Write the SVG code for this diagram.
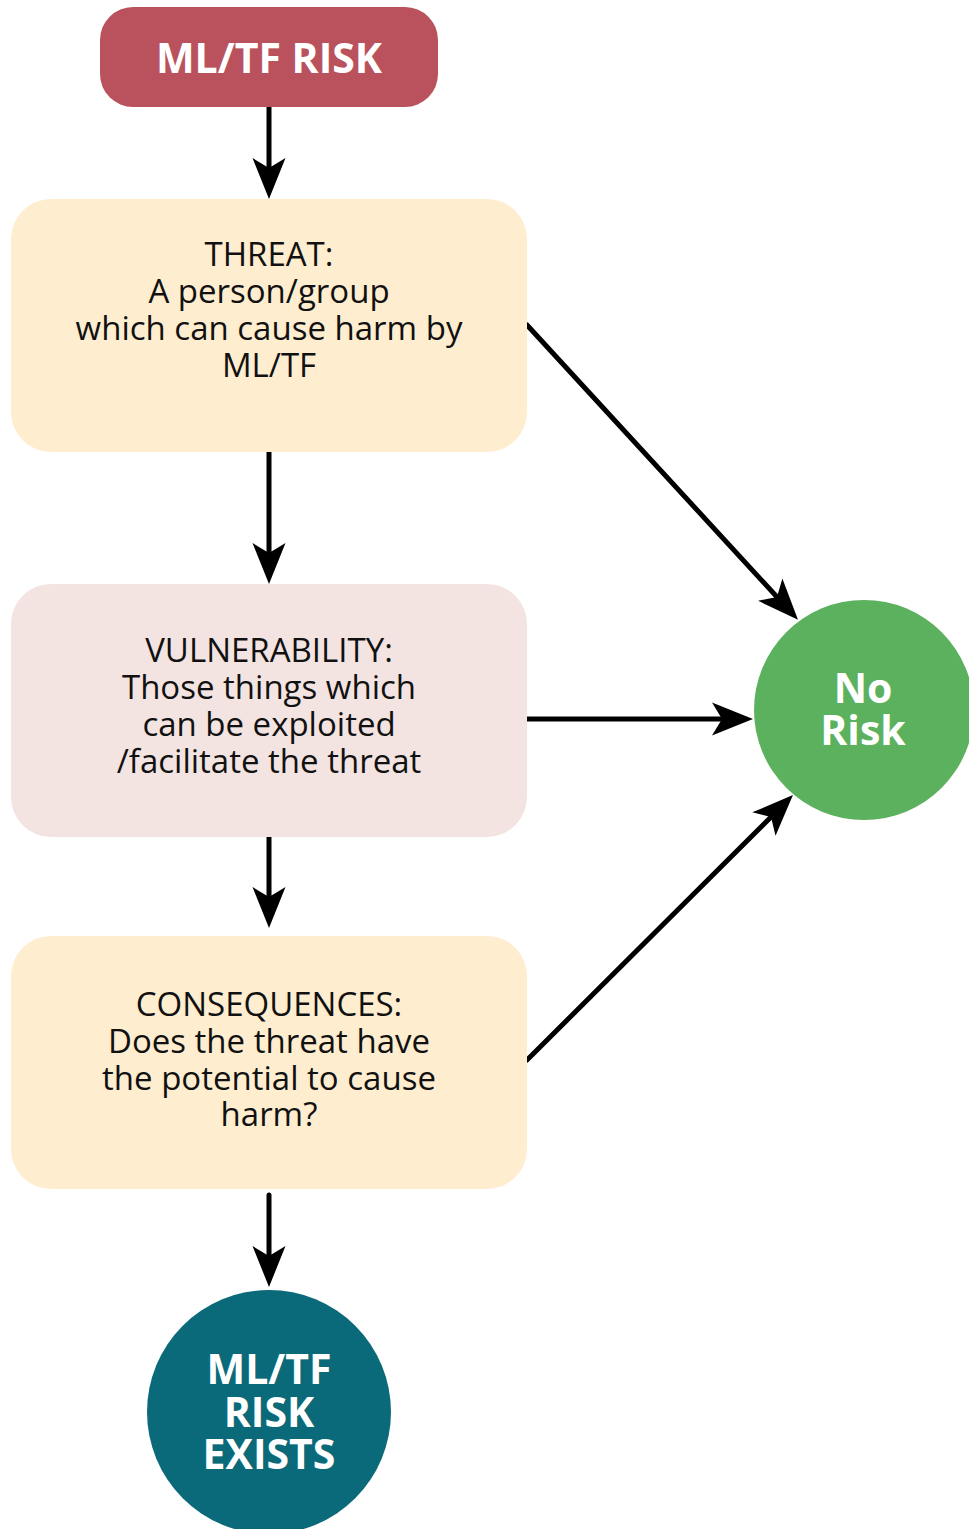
<svg xmlns="http://www.w3.org/2000/svg" width="969" height="1529" viewBox="0 0 969 1529">
  <style>
    .body { font-family: "Open Sans", "Noto Sans", sans-serif; font-size: 33px; fill: #111; text-anchor: middle; }
    .title { font-family: "Open Sans", "Noto Sans", sans-serif; font-weight: 700; fill: #ffffff; text-anchor: middle; }
    .conn { stroke: #000; stroke-width: 5; fill: none; stroke-linecap: round; marker-end: url(#head); }
  </style>
  <defs>
    <!-- notched arrowhead; reference point sits in the notch -->
    <marker id="head" markerUnits="userSpaceOnUse" markerWidth="42" markerHeight="36" viewBox="0 0 42 36" refX="10" refY="18" orient="auto">
      <path d="M0,1.5 L41,18 L0,34.5 L10,18 Z" fill="#000"/>
    </marker>
  </defs>
  <rect width="969" height="1529" fill="#ffffff"/>

  <g id="connectors">
    <line class="conn" x1="269" y1="107" x2="269" y2="168"/>
    <line class="conn" x1="269" y1="452" x2="269" y2="553"/>
    <line class="conn" x1="269" y1="837" x2="269" y2="897"/>
    <line class="conn" x1="269" y1="1195" x2="269" y2="1256"/>
    <line class="conn" x1="527" y1="325" x2="777" y2="597"/>
    <line class="conn" x1="527" y1="719" x2="722" y2="719"/>
    <line class="conn" x1="527" y1="1060" x2="771" y2="817"/>
  </g>

  <g id="mltf-risk">
    <rect x="100" y="7" width="338" height="100" rx="33" fill="#b9525d"/>
    <text class="title" x="269" y="73" font-size="41">ML/TF RISK</text>
  </g>

  <g id="threat">
    <rect x="11" y="199" width="516" height="253" rx="40" fill="#ffedd0"/>
    <text class="body" x="269" y="266">THREAT:<tspan x="269" dy="37">A person/group</tspan><tspan x="269" dy="37">which can cause harm by</tspan><tspan x="269" dy="37">ML/TF</tspan></text>
  </g>

  <g id="vulnerability">
    <rect x="11" y="584" width="516" height="253" rx="40" fill="#f3e4e2"/>
    <text class="body" x="269" y="662">VULNERABILITY:<tspan x="269" dy="37">Those things which</tspan><tspan x="269" dy="37">can be exploited</tspan><tspan x="269" dy="37">/facilitate the threat</tspan></text>
  </g>

  <g id="consequences">
    <rect x="11" y="936" width="516" height="253" rx="40" fill="#ffedd0"/>
    <text class="body" x="269" y="1016">CONSEQUENCES:<tspan x="269" dy="37">Does the threat have</tspan><tspan x="269" dy="37">the potential to cause</tspan><tspan x="269" dy="36">harm?</tspan></text>
  </g>

  <g id="no-risk">
    <circle cx="864" cy="710" r="110" fill="#5cb15e"/>
    <text class="title" x="863" y="703" font-size="41">No<tspan x="863" dy="42">Risk</tspan></text>
  </g>

  <g id="risk-exists">
    <circle cx="269" cy="1412" r="122" fill="#0b6a79"/>
    <text class="title" x="269" y="1384" font-size="41">ML/TF<tspan x="269" dy="43">RISK</tspan><tspan x="269" dy="42">EXISTS</tspan></text>
  </g>
</svg>
